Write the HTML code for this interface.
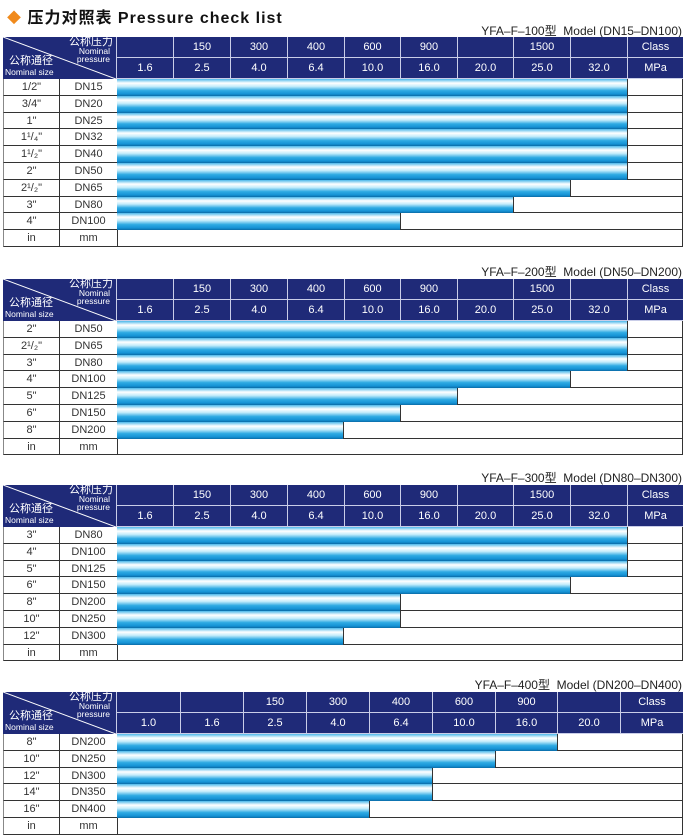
<!DOCTYPE html>
<html><head><meta charset="utf-8"><style>
*{margin:0;padding:0;box-sizing:border-box}
body{width:688px;height:838px;background:#fff;position:relative;overflow:hidden;font-family:"Liberation Sans","Noto Sans CJK SC",sans-serif;color:#333}
.title{position:absolute;left:7px;top:4px;font-size:16px;font-weight:bold;letter-spacing:1px;color:#111}
.title b{color:#f08a1c;font-size:14px}
.model{position:absolute;right:6px;font-size:12px;color:#222}
.tb{position:absolute;left:3px;width:680px}
.hd{position:relative;height:42px;background:#1f2a78;color:#fff}
.hc{position:absolute;height:21px;line-height:21px;text-align:center;font-size:11px;border-left:1px solid #c9cde8;border-bottom:1px solid #c9cde8}
.diag{position:absolute;left:0;top:0;width:113px;height:42px}
.diag .t1{position:absolute;right:3px;top:0;font-size:11px;line-height:11px}
.diag .t2{position:absolute;right:6px;top:10px;font-size:8.5px;line-height:8px;text-align:right}
.diag .t3{position:absolute;left:6px;top:19px;font-size:11px;line-height:11px}
.diag .t4{position:absolute;left:2px;top:30px;font-size:8.5px;line-height:10px}
.row{position:relative;height:16.8px;border-bottom:1px solid #333;border-left:1px solid #888;border-right:1px solid #333;font-size:11px;line-height:16px}
.a{position:absolute;left:0;width:55px;text-align:center}
.b{position:absolute;left:55px;width:58px;text-align:center;border-left:1px solid #333;height:100%}
.r{position:absolute;left:113px;right:0;top:0;bottom:0;border-left:1px solid #333}
.bar{position:absolute;left:113px;top:0;bottom:-1px;border-right:1px solid #333;background:linear-gradient(#4cb8ea 0%,#ffffff 24%,#c4ecfb 44%,#2eaae3 68%,#1592d5 88%,#0b6aa5 100%)}
</style></head><body>
<div class="title"><b>◆</b> 压力对照表 Pressure check list</div>

<div class="model" style="top:22px">YFA–F–100型&nbsp;&nbsp;Model (DN15–DN100)</div>
<div class="tb" style="top:37px">
<div class="hd">
<div class="diag"><svg width="113" height="42" style="position:absolute;left:0;top:0"><line x1="0" y1="0" x2="113" y2="42" stroke="#fff" stroke-width="1"/></svg><span class="t1">公称压力</span><span class="t2">Nominal<br>pressure</span><span class="t3">公称通径</span><span class="t4">Nominal size</span></div>
<div class="hc" style="left:113px;top:0;width:57px"></div><div class="hc" style="left:170px;top:0;width:57px">150</div><div class="hc" style="left:227px;top:0;width:57px">300</div><div class="hc" style="left:284px;top:0;width:57px">400</div><div class="hc" style="left:341px;top:0;width:56px">600</div><div class="hc" style="left:397px;top:0;width:57px">900</div><div class="hc" style="left:454px;top:0;width:56px"></div><div class="hc" style="left:510px;top:0;width:57px">1500</div><div class="hc" style="left:567px;top:0;width:57px"></div><div class="hc" style="left:624px;top:0;width:56px">Class</div>
<div class="hc" style="left:113px;top:21px;width:57px">1.6</div><div class="hc" style="left:170px;top:21px;width:57px">2.5</div><div class="hc" style="left:227px;top:21px;width:57px">4.0</div><div class="hc" style="left:284px;top:21px;width:57px">6.4</div><div class="hc" style="left:341px;top:21px;width:56px">10.0</div><div class="hc" style="left:397px;top:21px;width:57px">16.0</div><div class="hc" style="left:454px;top:21px;width:56px">20.0</div><div class="hc" style="left:510px;top:21px;width:57px">25.0</div><div class="hc" style="left:567px;top:21px;width:57px">32.0</div><div class="hc" style="left:624px;top:21px;width:56px">MPa</div>
</div>
<div class="row"><span class="a">1/2"</span><span class="b">DN15</span><span class="r"></span><span class="bar" style="width:511px"></span></div>
<div class="row"><span class="a">3/4"</span><span class="b">DN20</span><span class="r"></span><span class="bar" style="width:511px"></span></div>
<div class="row"><span class="a">1"</span><span class="b">DN25</span><span class="r"></span><span class="bar" style="width:511px"></span></div>
<div class="row"><span class="a">1¹/₄"</span><span class="b">DN32</span><span class="r"></span><span class="bar" style="width:511px"></span></div>
<div class="row"><span class="a">1¹/₂"</span><span class="b">DN40</span><span class="r"></span><span class="bar" style="width:511px"></span></div>
<div class="row"><span class="a">2"</span><span class="b">DN50</span><span class="r"></span><span class="bar" style="width:511px"></span></div>
<div class="row"><span class="a">2¹/₂"</span><span class="b">DN65</span><span class="r"></span><span class="bar" style="width:454px"></span></div>
<div class="row"><span class="a">3"</span><span class="b">DN80</span><span class="r"></span><span class="bar" style="width:397px"></span></div>
<div class="row"><span class="a">4"</span><span class="b">DN100</span><span class="r"></span><span class="bar" style="width:284px"></span></div>
<div class="row"><span class="a">in</span><span class="b">mm</span><span class="r"></span></div>
</div>

<div class="model" style="top:263px">YFA–F–200型&nbsp;&nbsp;Model (DN50–DN200)</div>
<div class="tb" style="top:279px">
<div class="hd">
<div class="diag"><svg width="113" height="42" style="position:absolute;left:0;top:0"><line x1="0" y1="0" x2="113" y2="42" stroke="#fff" stroke-width="1"/></svg><span class="t1">公称压力</span><span class="t2">Nominal<br>pressure</span><span class="t3">公称通径</span><span class="t4">Nominal size</span></div>
<div class="hc" style="left:113px;top:0;width:57px"></div><div class="hc" style="left:170px;top:0;width:57px">150</div><div class="hc" style="left:227px;top:0;width:57px">300</div><div class="hc" style="left:284px;top:0;width:57px">400</div><div class="hc" style="left:341px;top:0;width:56px">600</div><div class="hc" style="left:397px;top:0;width:57px">900</div><div class="hc" style="left:454px;top:0;width:56px"></div><div class="hc" style="left:510px;top:0;width:57px">1500</div><div class="hc" style="left:567px;top:0;width:57px"></div><div class="hc" style="left:624px;top:0;width:56px">Class</div>
<div class="hc" style="left:113px;top:21px;width:57px">1.6</div><div class="hc" style="left:170px;top:21px;width:57px">2.5</div><div class="hc" style="left:227px;top:21px;width:57px">4.0</div><div class="hc" style="left:284px;top:21px;width:57px">6.4</div><div class="hc" style="left:341px;top:21px;width:56px">10.0</div><div class="hc" style="left:397px;top:21px;width:57px">16.0</div><div class="hc" style="left:454px;top:21px;width:56px">20.0</div><div class="hc" style="left:510px;top:21px;width:57px">25.0</div><div class="hc" style="left:567px;top:21px;width:57px">32.0</div><div class="hc" style="left:624px;top:21px;width:56px">MPa</div>
</div>
<div class="row"><span class="a">2"</span><span class="b">DN50</span><span class="r"></span><span class="bar" style="width:511px"></span></div>
<div class="row"><span class="a">2¹/₂"</span><span class="b">DN65</span><span class="r"></span><span class="bar" style="width:511px"></span></div>
<div class="row"><span class="a">3"</span><span class="b">DN80</span><span class="r"></span><span class="bar" style="width:511px"></span></div>
<div class="row"><span class="a">4"</span><span class="b">DN100</span><span class="r"></span><span class="bar" style="width:454px"></span></div>
<div class="row"><span class="a">5"</span><span class="b">DN125</span><span class="r"></span><span class="bar" style="width:341px"></span></div>
<div class="row"><span class="a">6"</span><span class="b">DN150</span><span class="r"></span><span class="bar" style="width:284px"></span></div>
<div class="row"><span class="a">8"</span><span class="b">DN200</span><span class="r"></span><span class="bar" style="width:227px"></span></div>
<div class="row"><span class="a">in</span><span class="b">mm</span><span class="r"></span></div>
</div>

<div class="model" style="top:469px">YFA–F–300型&nbsp;&nbsp;Model (DN80–DN300)</div>
<div class="tb" style="top:485px">
<div class="hd">
<div class="diag"><svg width="113" height="42" style="position:absolute;left:0;top:0"><line x1="0" y1="0" x2="113" y2="42" stroke="#fff" stroke-width="1"/></svg><span class="t1">公称压力</span><span class="t2">Nominal<br>pressure</span><span class="t3">公称通径</span><span class="t4">Nominal size</span></div>
<div class="hc" style="left:113px;top:0;width:57px"></div><div class="hc" style="left:170px;top:0;width:57px">150</div><div class="hc" style="left:227px;top:0;width:57px">300</div><div class="hc" style="left:284px;top:0;width:57px">400</div><div class="hc" style="left:341px;top:0;width:56px">600</div><div class="hc" style="left:397px;top:0;width:57px">900</div><div class="hc" style="left:454px;top:0;width:56px"></div><div class="hc" style="left:510px;top:0;width:57px">1500</div><div class="hc" style="left:567px;top:0;width:57px"></div><div class="hc" style="left:624px;top:0;width:56px">Class</div>
<div class="hc" style="left:113px;top:21px;width:57px">1.6</div><div class="hc" style="left:170px;top:21px;width:57px">2.5</div><div class="hc" style="left:227px;top:21px;width:57px">4.0</div><div class="hc" style="left:284px;top:21px;width:57px">6.4</div><div class="hc" style="left:341px;top:21px;width:56px">10.0</div><div class="hc" style="left:397px;top:21px;width:57px">16.0</div><div class="hc" style="left:454px;top:21px;width:56px">20.0</div><div class="hc" style="left:510px;top:21px;width:57px">25.0</div><div class="hc" style="left:567px;top:21px;width:57px">32.0</div><div class="hc" style="left:624px;top:21px;width:56px">MPa</div>
</div>
<div class="row"><span class="a">3"</span><span class="b">DN80</span><span class="r"></span><span class="bar" style="width:511px"></span></div>
<div class="row"><span class="a">4"</span><span class="b">DN100</span><span class="r"></span><span class="bar" style="width:511px"></span></div>
<div class="row"><span class="a">5"</span><span class="b">DN125</span><span class="r"></span><span class="bar" style="width:511px"></span></div>
<div class="row"><span class="a">6"</span><span class="b">DN150</span><span class="r"></span><span class="bar" style="width:454px"></span></div>
<div class="row"><span class="a">8"</span><span class="b">DN200</span><span class="r"></span><span class="bar" style="width:284px"></span></div>
<div class="row"><span class="a">10"</span><span class="b">DN250</span><span class="r"></span><span class="bar" style="width:284px"></span></div>
<div class="row"><span class="a">12"</span><span class="b">DN300</span><span class="r"></span><span class="bar" style="width:227px"></span></div>
<div class="row"><span class="a">in</span><span class="b">mm</span><span class="r"></span></div>
</div>

<div class="model" style="top:676px">YFA–F–400型&nbsp;&nbsp;Model (DN200–DN400)</div>
<div class="tb" style="top:692px">
<div class="hd">
<div class="diag"><svg width="113" height="42" style="position:absolute;left:0;top:0"><line x1="0" y1="0" x2="113" y2="42" stroke="#fff" stroke-width="1"/></svg><span class="t1">公称压力</span><span class="t2">Nominal<br>pressure</span><span class="t3">公称通径</span><span class="t4">Nominal size</span></div>
<div class="hc" style="left:113px;top:0;width:64px"></div><div class="hc" style="left:177px;top:0;width:63px"></div><div class="hc" style="left:240px;top:0;width:63px">150</div><div class="hc" style="left:303px;top:0;width:63px">300</div><div class="hc" style="left:366px;top:0;width:63px">400</div><div class="hc" style="left:429px;top:0;width:63px">600</div><div class="hc" style="left:492px;top:0;width:62px">900</div><div class="hc" style="left:554px;top:0;width:63px"></div><div class="hc" style="left:617px;top:0;width:63px">Class</div>
<div class="hc" style="left:113px;top:21px;width:64px">1.0</div><div class="hc" style="left:177px;top:21px;width:63px">1.6</div><div class="hc" style="left:240px;top:21px;width:63px">2.5</div><div class="hc" style="left:303px;top:21px;width:63px">4.0</div><div class="hc" style="left:366px;top:21px;width:63px">6.4</div><div class="hc" style="left:429px;top:21px;width:63px">10.0</div><div class="hc" style="left:492px;top:21px;width:62px">16.0</div><div class="hc" style="left:554px;top:21px;width:63px">20.0</div><div class="hc" style="left:617px;top:21px;width:63px">MPa</div>
</div>
<div class="row"><span class="a">8"</span><span class="b">DN200</span><span class="r"></span><span class="bar" style="width:441px"></span></div>
<div class="row"><span class="a">10"</span><span class="b">DN250</span><span class="r"></span><span class="bar" style="width:379px"></span></div>
<div class="row"><span class="a">12"</span><span class="b">DN300</span><span class="r"></span><span class="bar" style="width:316px"></span></div>
<div class="row"><span class="a">14"</span><span class="b">DN350</span><span class="r"></span><span class="bar" style="width:316px"></span></div>
<div class="row"><span class="a">16"</span><span class="b">DN400</span><span class="r"></span><span class="bar" style="width:253px"></span></div>
<div class="row"><span class="a">in</span><span class="b">mm</span><span class="r"></span></div>
</div>
</body></html>
